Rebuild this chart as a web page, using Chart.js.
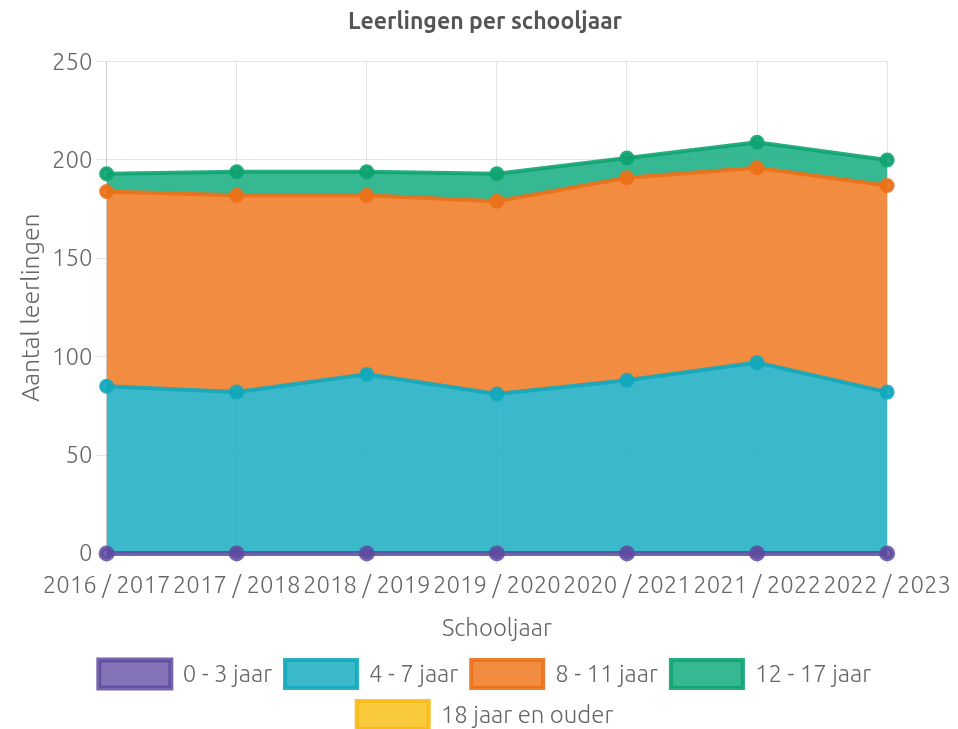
<!DOCTYPE html>
<html><head><meta charset="utf-8">
<script src="https://cdn.jsdelivr.net/npm/chart.js@4/dist/chart.umd.min.js"></script>
<style>html,body{margin:0;padding:0;background:#fff}#w{width:958px;height:729px}</style>
</head><body><div id="w"><canvas id="c"></canvas></div>
<script>
const categories = ["2016 / 2017","2017 / 2018","2018 / 2019","2019 / 2020","2020 / 2021","2021 / 2022","2022 / 2023"];
const age0to3 = [0,0,0,0,0,0,0];
const age4to7 = [85,82,91,81,88,97,82];
const age8to11 = [99,100,91,98,103,99,105];
const age12to17 = [9,12,12,14,10,13,13];
const age18plus = [null,null,null,null,null,null,null];
const yTicks = [0,50,100,150,200,250];

const FONT = "Ubuntu, 'Liberation Sans Narrow', 'Open Sans', sans-serif";
Chart.defaults.font.family = FONT;
Chart.defaults.color = '#666';
function ds(label, data, border, fill, first){
  return {label, data, borderColor:border, backgroundColor:fill, fill: first?'origin':'-1', clip:false,
    borderWidth:first?5:4, pointRadius:5.5, pointHoverRadius:5.5, pointBackgroundColor:border, pointBorderColor:border, tension:0};
}
new Chart(document.getElementById('c'), {
  type:'line',
  data:{labels:categories, datasets:[
    ds('0 - 3 jaar', age0to3, 'rgba(94,74,160,0.85)', 'rgba(110,92,170,0.85)', true),
    ds('4 - 7 jaar', age4to7, 'rgba(18,168,188,0.9)', 'rgba(38,176,196,0.9)'),
    ds('8 - 11 jaar', age8to11, 'rgba(236,112,24,0.9)', 'rgba(239,128,44,0.9)'),
    ds('12 - 17 jaar', age12to17, 'rgba(14,163,112,0.9)', 'rgba(32,176,134,0.9)'),
    ds('18 jaar en ouder', age18plus, 'rgba(251,186,20,0.9)', 'rgba(250,196,40,0.9)')
  ]},
  options:{
    responsive:true, maintainAspectRatio:false, animation:false,
    layout:{padding:{left:12,right:0,top:0,bottom:-10}},
    plugins:{
      filler:{drawTime:'beforeDatasetsDraw'},
      title:{display:true, text:'Leerlingen per schooljaar', font:{size:23, weight:'bold'}, color:'#555', padding:{top:8,bottom:26}},
      legend:{position:'bottom', labels:{boxWidth:72, boxHeight:28, font:{size:24, weight:300}, color:'#666', padding:13}},
      tooltip:{enabled:false}
    },
    scales:{
      x:{stacked:true, offset:false, grid:{color:'#e4e4e4', tickLength:10},
        ticks:{font:{size:24, weight:300}, color:'#666', maxRotation:0, autoSkip:false, padding:7},
        title:{display:true, text:'Schooljaar', font:{size:24, weight:300}, color:'#666', padding:{top:7,bottom:5}}},
      y:{stacked:true, min:0, max:250, grid:{color:'#e4e4e4', tickLength:10},
        afterBuildTicks:(a)=>{a.ticks = yTicks.map(v=>({value:v}));},
        ticks:{font:{size:24, weight:300}, color:'#666', padding:4},
        title:{display:true, text:'Aantal leerlingen', font:{size:25, weight:300}, color:'#666', padding:{bottom:2}}}
    }
  }
});
</script></body></html>
